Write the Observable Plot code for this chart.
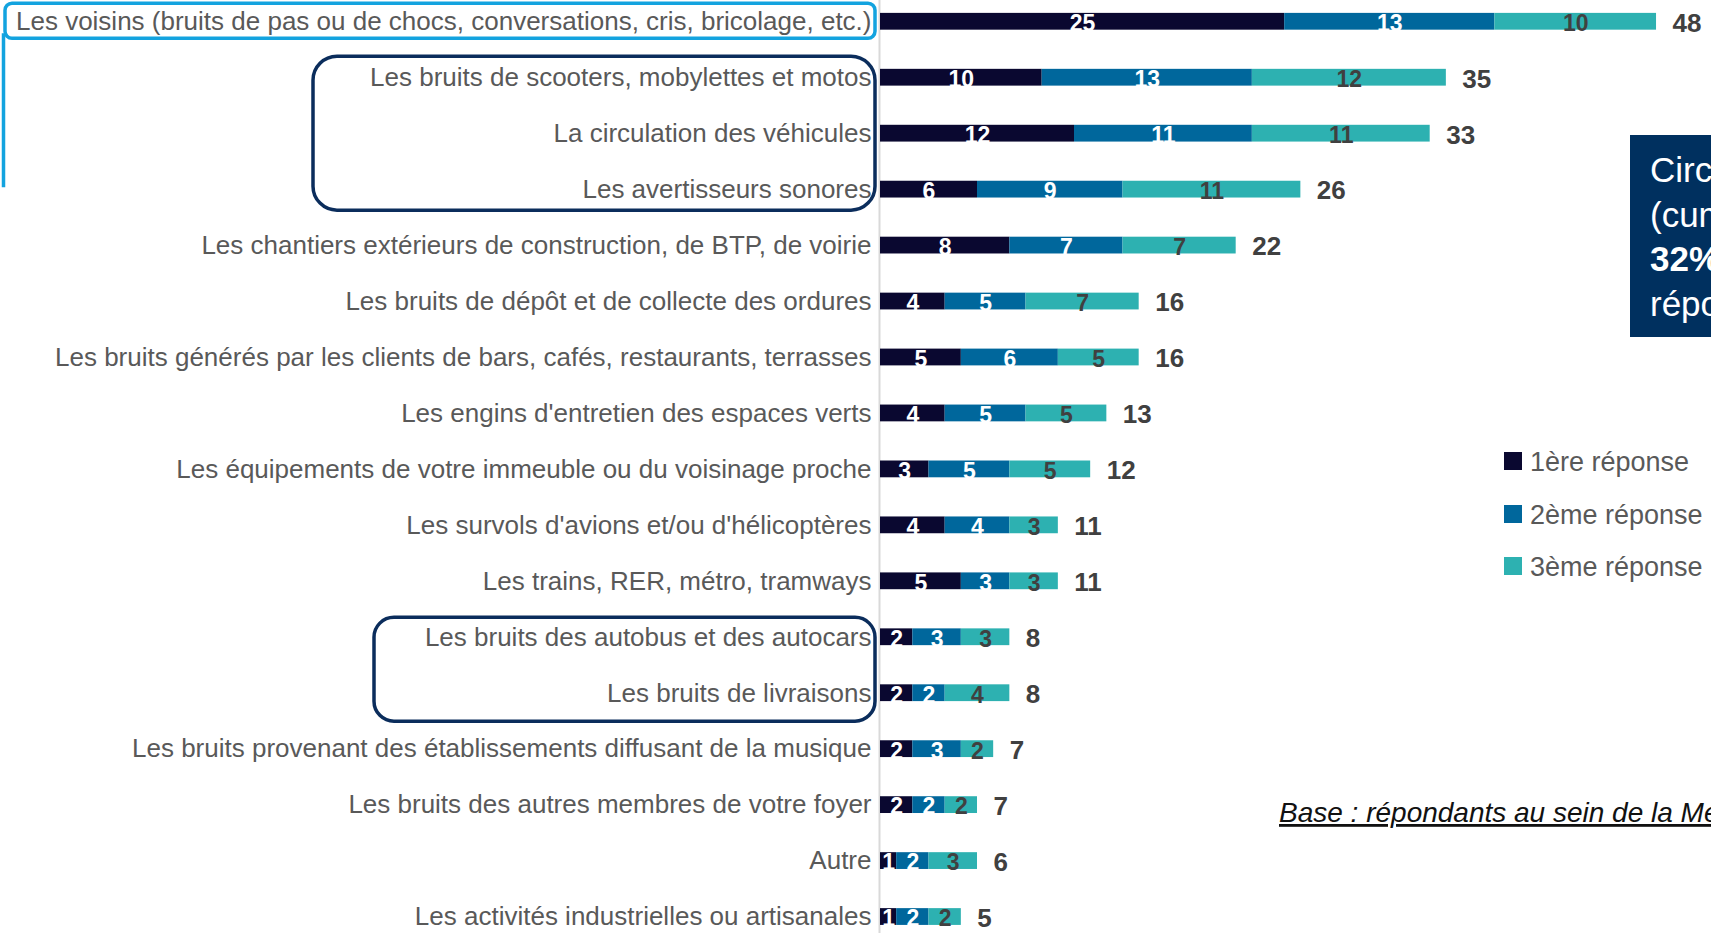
<!DOCTYPE html>
<html>
<head>
<meta charset="utf-8">
<script src="https://cdn.jsdelivr.net/npm/d3@7"></script>
<script src="https://cdn.jsdelivr.net/npm/@observablehq/plot@0.6"></script>
<style>
  html, body { margin: 0; padding: 0; background: #ffffff; overflow: hidden; }
  #chart svg { display: block; }
</style>
</head>
<body>
<div id="chart"></div>
<script>
// ---- Data ----
const categories = [
  "Les voisins (bruits de pas ou de chocs, conversations, cris, bricolage, etc.)",
  "Les bruits de scooters, mobylettes et motos",
  "La circulation des véhicules",
  "Les avertisseurs sonores",
  "Les chantiers extérieurs de construction, de BTP, de voirie",
  "Les bruits de dépôt et de collecte des ordures",
  "Les bruits générés par les clients de bars, cafés, restaurants, terrasses",
  "Les engins d'entretien des espaces verts",
  "Les équipements de votre immeuble ou du voisinage proche",
  "Les survols d'avions et/ou d'hélicoptères",
  "Les trains, RER, métro, tramways",
  "Les bruits des autobus et des autocars",
  "Les bruits de livraisons",
  "Les bruits provenant des établissements diffusant de la musique",
  "Les bruits des autres membres de votre foyer",
  "Autre",
  "Les activités industrielles ou artisanales"
];
const seriesNames = ["1ère réponse", "2ème réponse", "3ème réponse"];
const first  = [25, 10, 12, 6, 8, 4, 5, 4, 3, 4, 5, 2, 2, 2, 2, 1, 1];
const second = [13, 13, 11, 9, 7, 5, 6, 5, 5, 4, 3, 3, 2, 3, 2, 2, 2];
const third  = [10, 12, 11, 11, 7, 7, 5, 5, 5, 3, 3, 3, 4, 2, 2, 3, 2];
const totals = [48, 35, 33, 26, 22, 16, 16, 13, 12, 11, 11, 8, 8, 7, 7, 6, 5];
const colors = ["#0a0830", "#00679c", "#2db1b1"];
const boxLines = ["Circulation", "(cumul) :", "32% des", "répondants"];
const baseNote = "Base : répondants au sein de la Métropole";

// ---- Tables built from the arrays ----
const rows = categories.map((c, i) => ({category: c, s1: first[i], s2: second[i], s3: third[i], total: totals[i]}));
const long = rows.flatMap(r => [
  {category: r.category, series: seriesNames[0], value: r.s1},
  {category: r.category, series: seriesNames[1], value: r.s2},
  {category: r.category, series: seriesNames[2], value: r.s3}
]);

const FONT = "'Liberation Sans', Arial, sans-serif";

const chart = Plot.plot({
  width: 1711,
  height: 933,
  marginLeft: 880,
  marginRight: 0,
  marginTop: 0,
  marginBottom: 0,
  style: {fontFamily: FONT, background: "#ffffff"},
  x: {domain: [0, 51.4], axis: null},
  y: {domain: categories, range: [-6.7, 944.5], paddingInner: 0.7, paddingOuter: 0.35, round: false},
  color: {domain: seriesNames, range: colors},
  marks: [
    Plot.axisY({tickSize: 0, tickPadding: 9, fontSize: 26, color: "#595959", label: null}),
    Plot.ruleX([0], {stroke: "#d9d9d9", strokeWidth: 2, dx: -1}),
    Plot.barX(long, {x: "value", y: "category", fill: "series"}),
    Plot.text(long, Plot.stackX({
      x: "value", y: "category",
      text: d => d.series !== seriesNames[2] ? String(d.value) : "",
      fill: "#ffffff", fontWeight: "bold", fontSize: 23, dy: 2
    })),
    Plot.text(long, Plot.stackX({
      x: "value", y: "category",
      text: d => d.series === seriesNames[2] ? String(d.value) : "",
      fill: "#404040", fontWeight: "bold", fontSize: 23, dy: 2
    })),
    Plot.text(rows, {
      x: d => d.s1 + d.s2 + d.s3, y: "category", text: d => String(d.total),
      textAnchor: "start", dx: 16, dy: 1.5,
      fontWeight: "bold", fontSize: 26, fill: "#404040"
    })
  ]
});

document.getElementById("chart").appendChild(chart);

// ---- Annotations positioned from the y scale ----
const ys = chart.scale("y");
const yc = c => ys.apply(c) + ys.bandwidth / 2;
const svg = d3.select(chart);
const ann = svg.append("g").attr("fill", "none");

// light-blue frame around the first label + vertical connector
ann.append("rect")
  .attr("x", 5).attr("y", yc(categories[0]) - 18)
  .attr("width", 870).attr("height", 35)
  .attr("rx", 7).attr("stroke", "#13a3df").attr("stroke-width", 3.5);
ann.append("line")
  .attr("x1", 3.5).attr("x2", 3.5)
  .attr("y1", yc(categories[0]) + 12).attr("y2", yc(categories[3]) - 2)
  .attr("stroke", "#13a3df").attr("stroke-width", 3.5);

// navy frames
ann.append("rect")
  .attr("x", 313).attr("y", yc(categories[1]) - 21)
  .attr("width", 562).attr("height", yc(categories[3]) - yc(categories[1]) + 42)
  .attr("rx", 24).attr("stroke", "#0b2d5c").attr("stroke-width", 3.5);
ann.append("rect")
  .attr("x", 374).attr("y", yc(categories[11]) - 19.5)
  .attr("width", 501).attr("height", yc(categories[12]) - yc(categories[11]) + 48)
  .attr("rx", 20).attr("stroke", "#0b2d5c").attr("stroke-width", 3.5);

// dark blue call-out box (cut by the right edge, as in the reference)
const box = svg.append("g").attr("text-anchor", "start");
box.append("rect").attr("x", 1630).attr("y", 135).attr("width", 120).attr("height", 202).attr("fill", "#00305f");
boxLines.forEach((t, i) => {
  box.append("text")
    .attr("x", 1650).attr("y", 182 + i * 44.7)
    .attr("text-anchor", "start")
    .attr("fill", "#ffffff").attr("font-family", FONT).attr("font-size", 35)
    .attr("font-weight", i === 2 ? "bold" : "normal")
    .text(t);
});

// legend
const leg = svg.append("g").attr("font-family", FONT).attr("text-anchor", "start");
const legY = [461, 514, 566];
seriesNames.forEach((s, i) => {
  leg.append("rect").attr("x", 1504).attr("y", legY[i] - 9).attr("width", 18).attr("height", 18).attr("fill", colors[i]);
  leg.append("text").attr("x", 1530).attr("y", legY[i]).attr("dy", "0.36em")
    .attr("text-anchor", "start")
    .attr("font-size", 27).attr("fill", "#595959").text(s);
});

// base note (cut by the right edge, as in the reference)
svg.append("text")
  .attr("x", 1279).attr("y", 822)
  .attr("text-anchor", "start")
  .attr("font-family", FONT).attr("font-size", 28).attr("font-style", "italic")
  .attr("text-decoration", "underline").attr("fill", "#111111")
  .text(baseNote);
</script>
</body>
</html>
